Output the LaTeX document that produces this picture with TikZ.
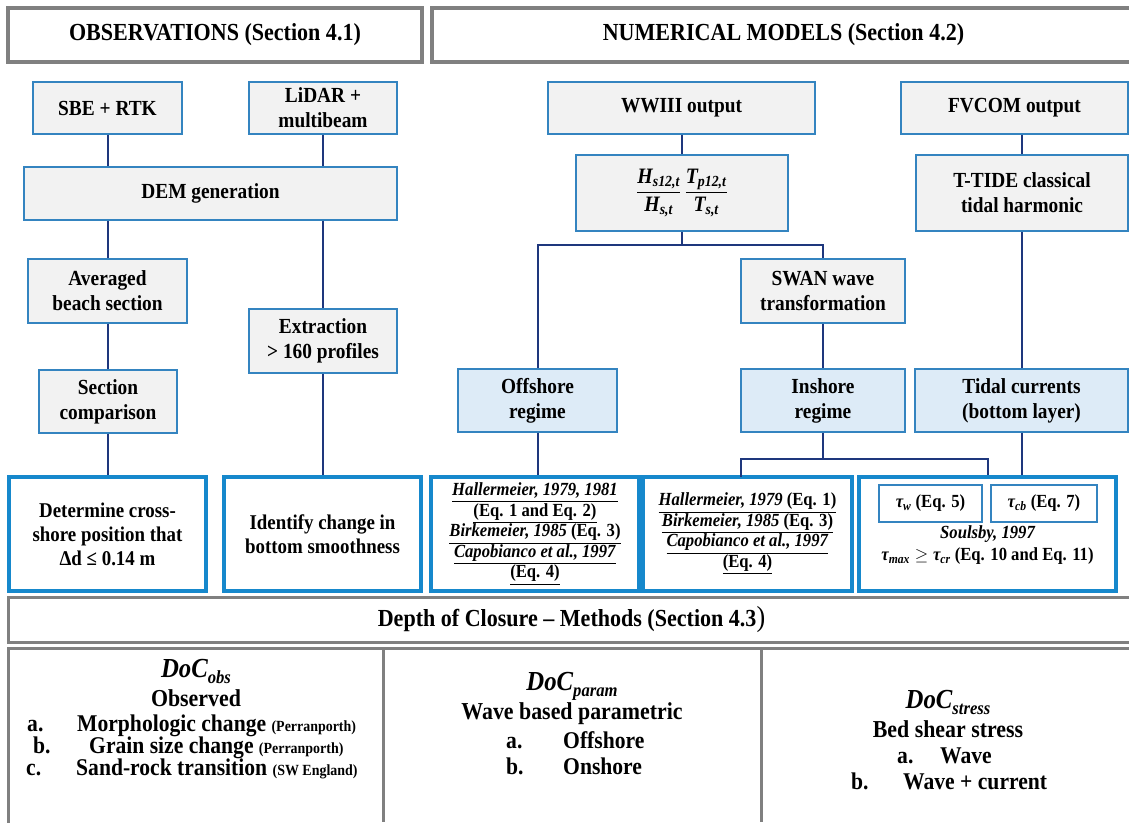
\documentclass[tikz,border=0pt]{standalone}
\usepackage{fontspec}
\setmainfont[FakeStretch=0.9]{Liberation Serif}
\usepackage{amsmath}
\usetikzlibrary{calc}
\definecolor{bxblue}{RGB}{52,132,192}
\definecolor{wblue}{RGB}{22,136,204}
\definecolor{grayfill}{RGB}{242,242,242}
\definecolor{lbfill}{RGB}{221,235,247}
\definecolor{lineblue}{RGB}{30,55,125}
\definecolor{hdrgray}{RGB}{128,128,128}
\newcommand{\bi}[1]{\text{\bfseries\itshape #1}}
\newcommand{\docsym}[1]{{\fontsize{27.5}{30}\selectfont\bfseries\itshape DoC\raisebox{-6pt}{\fontsize{18.5}{18.5}\selectfont #1}}}
\newcommand{\smallpar}[1]{{\fontsize{15.5}{17}\selectfont #1}}
\begin{document}
\begin{tikzpicture}[x=1pt,y=-1pt,
  gbox/.style={draw=bxblue, line width=1.6pt, fill=grayfill, align=center, inner sep=0pt,
    font=\fontsize{21.5}{25}\selectfont\bfseries},
  lbox/.style={gbox, fill=lbfill},
  wbox/.style={draw=wblue, line width=3.2pt, fill=white, align=center, inner sep=0pt,
    font=\fontsize{21}{24}\selectfont\bfseries},
  refbox/.style={wbox, font=\fontsize{18.5}{20.5}\selectfont\bfseries},
  taubox/.style={draw=bxblue, line width=1.6pt, fill=white, inner sep=0pt,
    font=\fontsize{18.5}{20}\selectfont\bfseries},
  hdr/.style={draw=hdrgray, line width=4pt, fill=white, align=center, inner sep=0pt,
    font=\fontsize{24.5}{28}\selectfont\bfseries},
  conn/.style={draw=lineblue, line width=2pt},
  item/.style={inner sep=0pt, anchor=base west, font=\fontsize{24}{27}\selectfont\bfseries},
  ctext/.style={inner sep=0pt, align=center, font=\fontsize{24.3}{27}\selectfont\bfseries}
]
\useasboundingbox (0,0) rectangle (1129,822);
\fill[white] (0,0) rectangle (1129,822);

% headers
\node[hdr, minimum width=414, minimum height=54] (obsH) at (215,35) {OBSERVATIONS (Section 4.1)};
\node[hdr, minimum width=703, minimum height=54] (numH) at (783.5,35) {NUMERICAL MODELS (Section 4.2)};

% observations column
\node[gbox, minimum width=149, minimum height=52] (sbe) at (107.5,108) {SBE + RTK};
\node[gbox, minimum width=148, minimum height=52] (lidar) at (323,108) {LiDAR +\\multibeam};
\node[gbox, minimum width=373, minimum height=53] (dem) at (210.5,193.5) {DEM generation};
\node[gbox, minimum width=159, minimum height=64] (avg) at (107.5,291) {Averaged\\beach section};
\node[gbox, minimum width=148, minimum height=64] (extr) at (323,341) {Extraction\\> 160 profiles};
\node[gbox, minimum width=138, minimum height=63] (secc) at (108,401.5) {Section\\comparison};
\node[wbox, minimum width=197, minimum height=114] (det) at (107.5,534) {Determine cross-\\shore position that\\Δd ≤ 0.14 m};
\node[wbox, minimum width=197, minimum height=114] (ident) at (322.5,534) {Identify change in\\bottom smoothness};

% numerical models column
\node[gbox, minimum width=267, minimum height=52] (ww3) at (681.5,108) {WWIII output};
\node[gbox, minimum width=212, minimum height=76, font=\fontsize{22}{26}\selectfont\bfseries] (ratio) at (682,193)
  {$\dfrac{\bi{H}_{\bi{s12,t}}}{\bi{H}_{\bi{s,t}}}\,\dfrac{\bi{T}_{\bi{p12,t}}}{\bi{T}_{\bi{s,t}}}$};
\node[gbox, minimum width=227, minimum height=52] (fvcom) at (1014.5,108) {FVCOM output};
\node[gbox, minimum width=212, minimum height=76] (ttide) at (1022,193) {T-TIDE classical\\tidal harmonic};
\node[gbox, minimum width=164, minimum height=64] (swan) at (823,291) {SWAN wave\\transformation};
\node[lbox, minimum width=159, minimum height=63] (offr) at (537.5,400.5) {Offshore\\regime};
\node[lbox, minimum width=164, minimum height=63] (inr) at (823,400.5) {Inshore\\regime};
\node[lbox, minimum width=213, minimum height=63] (tidal) at (1021.5,400.5) {Tidal currents\\(bottom layer)};

\node[refbox, minimum width=208, minimum height=114] (offref) at (535,534)
  {\underline{\textit{Hallermeier, 1979, 1981}}\\
   \underline{(Eq. 1 and Eq. 2)}\\
   \underline{\textit{Birkemeier, 1985} (Eq. 3)}\\
   \underline{\textit{Capobianco et al., 1997}}\\
   \underline{(Eq. 4)}};
\node[refbox, minimum width=209, minimum height=114] (inref) at (747.5,534)
  {\underline{\textit{Hallermeier, 1979} (Eq. 1)}\\
   \underline{\textit{Birkemeier, 1985} (Eq. 3)}\\
   \underline{\textit{Capobianco et al., 1997}}\\
   \underline{(Eq. 4)}};
\node[refbox, minimum width=257, minimum height=114] (stress) at (987.5,534) {};
\node[taubox, minimum width=103, minimum height=37] (tauw) at (930.5,503.5) {$\bi{τ}_{\bi{w}}$ (Eq. 5)};
\node[taubox, minimum width=106, minimum height=37] (taucb) at (1044,503.5) {$\bi{τ}_{\bi{cb}}$ (Eq. 7)};
\node[inner sep=0pt, font=\fontsize{18.5}{20}\selectfont\bfseries\itshape] (soul) at (987.5,534) {Soulsby, 1997};
\node[inner sep=0pt, font=\fontsize{18.5}{20}\selectfont\bfseries] (taumax) at (987.5,556)
  {$\bi{τ}_{\bi{max}} \geq \bi{τ}_{\bi{cr}}$ (Eq. 10 and Eq. 11)};

% connectors
\draw[conn] (sbe.south) -- (sbe.south |- dem.north);
\draw[conn] (lidar.south) -- (lidar.south |- dem.north);
\draw[conn] (avg.north |- dem.south) -- (avg.north);
\draw[conn] (extr.north |- dem.south) -- (extr.north);
\draw[conn] (avg.south) -- (avg.south |- secc.north);
\draw[conn] (secc.south) -- (secc.south |- det.north);
\draw[conn] (extr.south) -- (extr.south |- ident.north);
\draw[conn] (ww3.south) -- (ww3.south |- ratio.north);
\coordinate (j1) at (682,245);
\draw[conn] (ratio.south) -- (j1);
\draw[conn] (j1) -| (offr.north);
\draw[conn] (j1) -| (swan.north);
\draw[conn] (swan.south) -- (swan.south |- inr.north);
\draw[conn] (offr.south) -- (offr.south |- offref.north);
\coordinate (j2) at (823,459);
\coordinate (inrefTop) at (741,477);
\draw[conn] (inr.south) -- (j2);
\draw[conn] (j2) -| (inrefTop);
\draw[conn] (j2) -| (stress.north);
\draw[conn] (ttide.north |- fvcom.south) -- (ttide.north);
\draw[conn] (ttide.south) -- (ttide.south |- tidal.north);
\draw[conn] (tidal.south) -- (tidal.south |- stress.north);

% depth of closure header
\node[hdr, line width=3pt, minimum width=1127, minimum height=45] (depth) at (571.5,619.5)
  {Depth of Closure -- Methods (Section 4.3{\fontsize{29}{29}\selectfont\mdseries )}};

% bottom panel
\node[draw=hdrgray, line width=3pt, minimum width=1127, minimum height=184, inner sep=0pt] (panel) at (571.5,740) {};
\coordinate (d1t) at (383,648);
\coordinate (d1b) at (383,822);
\coordinate (d2t) at (761,648);
\coordinate (d2b) at (761,822);
\draw[draw=hdrgray, line width=3pt] (d1t) -- (d1b);
\draw[draw=hdrgray, line width=3pt] (d2t) -- (d2b);

% column 1
\node[ctext] (docobs) at (196,671) {\docsym{obs}};
\node[ctext] (observed) at (196,698) {Observed};
\node[item] (a1) at (27,731) {a.};
\node[item] (a1t) at (77,731) {Morphologic change \smallpar{(Perranporth)}};
\node[item] (b1) at (33,753) {b.};
\node[item] (b1t) at (89,753) {Grain size change \smallpar{(Perranporth)}};
\node[item] (c1) at (26,775) {c.};
\node[item] (c1t) at (76,775) {Sand-rock transition \smallpar{(SW England)}};

% column 2
\node[ctext] (docparam) at (572,686) {\docsym{param}};
\node[ctext] (wavebased) at (572,714) {Wave based parametric};
\node[item] (a2) at (506,748) {a.};
\node[item] (a2t) at (563,748) {Offshore};
\node[item] (b2) at (506,774) {b.};
\node[item] (b2t) at (563,774) {Onshore};

% column 3
\node[ctext] (docstress) at (948,702) {\docsym{stress}};
\node[ctext] (bedshear) at (948,729) {Bed shear stress};
\node[item] (a3) at (897,763) {a.};
\node[item] (a3t) at (940,763) {Wave};
\node[item] (b3) at (851,789) {b.};
\node[item] (b3t) at (903,789) {Wave + current};
\end{tikzpicture}
\end{document}
